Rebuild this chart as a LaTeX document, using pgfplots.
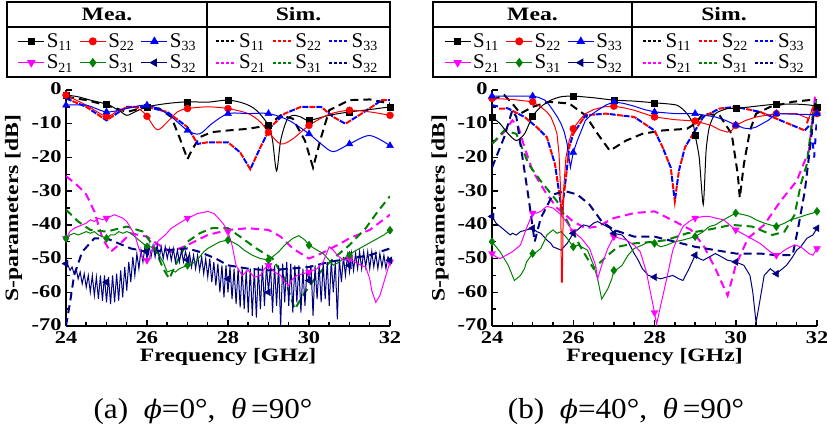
\documentclass[border=0pt]{standalone}
\usepackage{fontspec}
\setmainfont{Liberation Serif}[BoldFeatures={FakeStretch=1.25}]
\newfontfamily\capfont{Liberation Serif}[FakeStretch=1.08]
\newfontfamily\phifont{DejaVu Serif}[Scale=0.88, FakeStretch=1.05]
\usepackage{pgfplots}
\pgfplotsset{compat=1.18}
\definecolor{mgreen}{RGB}{0,128,0}
\definecolor{mnavy}{RGB}{0,0,128}
\definecolor{mblue}{RGB}{0,0,255}
\definecolor{mmag}{RGB}{255,0,255}
\definecolor{mred}{RGB}{255,0,0}
\newcommand\sub[1]{\raisebox{-0.35ex}{\fontsize{14}{14}\selectfont #1}}
\pgfplotsset{
  mea/.style={line width=1bp, mark=none},
  sim/.style={line width=2bp, dash pattern=on 8bp off 5bp},
  simA/.style={line width=2bp, dash pattern=on 6bp off 8bp},
  simB/.style={line width=2bp, dash pattern=on 6bp off 8bp, dash phase=7bp},
  mk/.style={only marks, mark size=3.2bp},
  mealeg/.style={legend image code/.code={\draw[mark repeat=2,mark phase=2,##1] plot coordinates {(0bp,0bp)(13bp,0bp)(26bp,0bp)};}},
  simleg/.style={legend image code/.code={\draw[##1] (0bp,0bp) -- (20bp,0bp);}},
  panel/.style={
    anchor=south west, scale only axis, height=236bp,
    xmin=24, xmax=32, ymin=-70, ymax=0,
    axis lines=left, axis line style={line width=2bp, -},
    xtick={24,26,...,32}, minor x tick num=3,
    ytick={-70,-60,...,0}, minor y tick num=1,
    tick align=inside, major tick length=6bp, minor tick length=4bp,
    tick style={line width=1.5bp, black},
    ticklabel style={font=\bfseries\fontsize{18}{18}\selectfont},
    yticklabel style={xshift=-1bp, yshift=1bp},
    xticklabel style={yshift=-2bp},
    /pgf/number format/assume math mode=true,
    xlabel={Frequency [GHz]}, ylabel={S-parameters [dB]},
    label style={font=\bfseries\fontsize{19}{19}\selectfont},
    xlabel style={at={(axis description cs:0.5,-0.131)}, anchor=center},
    ylabel style={at={(axis description cs:-0.162,0.5)}, anchor=center},
    clip mode=individual,
    legend columns=7, legend cell align=left,
    legend style={at={(axis description cs:0.409,1.161)}, anchor=center, draw=none, fill=none,
      inner sep=0bp, row sep=2bp, font=\fontsize{21}{21}\selectfont,
      /tikz/every even column/.append style={column sep=5bp}},
  },
}
\newcommand\mylegend{%
  \addlegendimage{mealeg, black, line width=1bp, mark=square*, mark size=3bp}\addlegendentry{S\sub{11}}
  \addlegendimage{mealeg, mred, line width=1bp, mark=*, mark size=3.5bp}\addlegendentry{S\sub{22}}
  \addlegendimage{mealeg, mblue, line width=1bp, mark=triangle*, mark size=4bp}\addlegendentry{S\sub{33}}
  \addlegendimage{empty legend}\addlegendentry{\hspace*{4bp}}
  \addlegendimage{simleg, black, line width=1.7bp, dash pattern=on 3bp off 2bp}\addlegendentry{S\sub{11}}
  \addlegendimage{simleg, color=mred, line width=1.7bp, dash pattern=on 3bp off 2bp}\addlegendentry{S\sub{22}}
  \addlegendimage{simleg, color=mblue, line width=1.7bp, dash pattern=on 3bp off 2bp}\addlegendentry{S\sub{33}}
  \addlegendimage{mealeg, mmag, line width=1bp, mark=triangle*, mark size=4bp, mark options={rotate=180}}\addlegendentry{S\sub{21}}
  \addlegendimage{mealeg, mgreen, line width=1bp, mark=diamond*, mark size=4bp}\addlegendentry{S\sub{31}}
  \addlegendimage{mealeg, mnavy, line width=1bp, mark=triangle*, mark size=4bp, mark options={rotate=90}}\addlegendentry{S\sub{32}}
  \addlegendimage{empty legend}\addlegendentry{\hspace*{4bp}}
  \addlegendimage{simleg, color=mmag, line width=1.7bp, dash pattern=on 3bp off 2bp}\addlegendentry{S\sub{21}}
  \addlegendimage{simleg, color=mgreen, line width=1.7bp, dash pattern=on 3bp off 2bp}\addlegendentry{S\sub{31}}
  \addlegendimage{simleg, color=mnavy, line width=1.7bp, dash pattern=on 3bp off 2bp}\addlegendentry{S\sub{32}}
}
\begin{document}
\begin{tikzpicture}
\useasboundingbox (0bp,0bp) rectangle (827bp,428bp);
% ================= LEFT PANEL =================
\begin{axis}[panel, at={(66bp,102bp)}, width=324bp]
\mylegend
% simulated
\addplot[sim, black] coordinates {(24,-2)(24.5,-3)(25,-4.5)(25.5,-6.5)(26,-5)(26.3,-5.5)(26.6,-8)(26.8,-14)(27,-20.5)(27.1,-18)(27.3,-14)(27.6,-12.5)(28,-12)(28.5,-11.5)(29,-10.5)(29.3,-7.5)(29.6,-8.5)(29.9,-15)(30.1,-23)(30.3,-14)(30.5,-6)(31,-3)(31.5,-2.8)(32,-4)};
\addplot[simA, mblue] coordinates {(24,-2.5)(24.5,-5)(25,-9)(25.5,-5)(26,-5)(26.5,-6.5)(27,-11)(27.25,-16)(27.5,-15.5)(28,-15.5)(28.3,-18.5)(28.55,-23.5)(28.8,-17)(29.05,-11)(29.4,-7)(29.8,-5)(30.3,-5)(30.6,-8)(30.9,-10)(31.3,-7)(31.8,-3)(32,-3)};
\addplot[simB, mred] coordinates {(24,-2.5)(24.5,-5)(25,-9)(25.5,-5)(26,-5)(26.5,-6.5)(27,-11)(27.25,-16)(27.5,-15.5)(28,-15.5)(28.3,-18.5)(28.55,-23.5)(28.8,-17)(29.05,-11)(29.4,-7)(29.8,-5)(30.3,-5)(30.6,-8)(30.9,-10)(31.3,-7)(31.8,-3)(32,-3)};
\addplot[sim, mmag] coordinates {(24,-25.5)(24.3,-28.5)(24.5,-31)(24.7,-36)(24.9,-44)(25.1,-48)(25.3,-46)(25.6,-42.5)(26,-43.5)(26.3,-46)(26.6,-48)(27,-46)(27.5,-43)(28,-41.5)(28.5,-41)(29,-41.5)(29.3,-43.5)(29.6,-47)(30,-50)(30.3,-48.5)(30.7,-46)(31,-44)(31.5,-41.5)(32,-37)};
\addplot[sim, mgreen] coordinates {(24,-35.5)(24.3,-39)(24.6,-41.5)(25,-42)(25.5,-40.5)(25.9,-42)(26.2,-47)(26.4,-53)(26.55,-56)(26.7,-52)(27,-45)(27.3,-42.5)(27.6,-41)(28,-41)(28.3,-43.5)(28.7,-47)(29.1,-50)(29.4,-56)(29.65,-65)(29.9,-60)(30.2,-55)(30.6,-50)(31,-46)(31.4,-41)(31.7,-36)(32,-31.5)};
\addplot[sim, mnavy] coordinates {(24,-70)(24.1,-63)(24.2,-55)(24.4,-48)(24.7,-44)(25,-44)(25.3,-45.5)(25.6,-47)(26,-48)(26.5,-47.5)(27,-47)(27.3,-48)(27.7,-50)(28,-52)(28.5,-53)(29,-53.5)(29.5,-53)(30,-52.5)(30.5,-51)(31,-50)(31.5,-49)(32,-47)};
% measured
\addplot[mea, mnavy] coordinates {(24,-51.5)(24.05,-52)(24.1,-53.5)(24.15,-52.5)(24.2,-54.5)(24.25,-53)(24.3,-56)(24.35,-54)(24.4,-57.5)(24.45,-54.5)(24.5,-58.5)(24.55,-55)(24.6,-60)(24.65,-55)(24.7,-61)(24.75,-55.5)(24.8,-62)(24.85,-55)(24.9,-62.5)(24.95,-55)(25,-63)(25.05,-55.5)(25.1,-63.5)(25.15,-55)(25.2,-63)(25.25,-54.5)(25.3,-62.5)(25.35,-53.5)(25.4,-61.5)(25.45,-52.5)(25.5,-59.5)(25.55,-51)(25.6,-57)(25.65,-49.5)(25.7,-55)(25.75,-48.5)(25.8,-53)(25.85,-47.5)(25.9,-51)(25.95,-46.5)(26,-50)(26.05,-46)(26.1,-49.5)(26.15,-46)(26.2,-49.5)(26.25,-46)(26.3,-50)(26.35,-46.5)(26.4,-50)(26.45,-46.5)(26.5,-50)(26.55,-47)(26.6,-50.5)(26.65,-47)(26.7,-51)(26.75,-47.5)(26.8,-51)(26.85,-47.5)(26.9,-51)(26.95,-48)(27,-50.4)(27.05,-48.5)(27.1,-52.5)(27.15,-49)(27.2,-53)(27.25,-49)(27.3,-53.5)(27.35,-49.5)(27.4,-54.5)(27.45,-50)(27.5,-55.5)(27.55,-50)(27.6,-57)(27.65,-51)(27.7,-58)(27.75,-51.5)(27.8,-60)(27.85,-52)(27.9,-61.5)(27.95,-52)(28,-60)(28.05,-52.5)(28.1,-62)(28.15,-53)(28.2,-63.5)(28.25,-53)(28.3,-64.5)(28.35,-53)(28.4,-65)(28.45,-53.5)(28.5,-66)(28.55,-53)(28.6,-67)(28.65,-53)(28.7,-67.5)(28.75,-52.5)(28.8,-65)(28.85,-52)(28.9,-64)(28.95,-52)(29,-60)(29.05,-52)(29.1,-66)(29.15,-52)(29.2,-64)(29.25,-52)(29.3,-70)(29.35,-51.5)(29.4,-63)(29.45,-51)(29.5,-64)(29.55,-51.5)(29.6,-66)(29.65,-52)(29.7,-63)(29.75,-52)(29.8,-66)(29.85,-53)(29.9,-64)(29.95,-53)(30,-56.5)(30.05,-52)(30.1,-67)(30.15,-52)(30.2,-62)(30.25,-52)(30.3,-63)(30.35,-51.5)(30.4,-62)(30.45,-51)(30.5,-64)(30.55,-50.5)(30.6,-60)(30.65,-51)(30.7,-68)(30.75,-50)(30.8,-57)(30.85,-49.5)(30.9,-55)(30.95,-49)(31,-54)(31.05,-48.5)(31.1,-53.5)(31.15,-48.5)(31.2,-53)(31.25,-48)(31.3,-53)(31.35,-48)(31.4,-52.5)(31.45,-48)(31.5,-53)(31.55,-48)(31.6,-52.5)(31.65,-48.5)(31.7,-53)(31.75,-48.5)(31.8,-52.5)(31.85,-49)(31.9,-53)(31.95,-49.5)(32,-50.5)};
\addplot[mea, mgreen] coordinates {(24,-44)(24.1,-43)(24.2,-42.5)(24.3,-43)(24.4,-42.5)(24.5,-42)(24.6,-42.5)(24.7,-42)(24.8,-43)(24.9,-43.5)(25,-44)(25.1,-43)(25.2,-43)(25.3,-42)(25.4,-42.5)(25.5,-42)(25.6,-42.5)(25.7,-43.5)(25.8,-44.5)(25.9,-45.5)(26,-46.5)(26.1,-46.5)(26.2,-47.5)(26.3,-49)(26.4,-51)(26.5,-54)(26.6,-53.5)(26.7,-54)(26.8,-53)(26.9,-52.5)(27,-52)(27.1,-51.5)(27.2,-51)(27.3,-49.5)(27.4,-48)(27.5,-47)(27.65,-46)(27.8,-45)(28,-44.5)(28.1,-45)(28.25,-46)(28.4,-47.5)(28.6,-49)(28.8,-50)(29,-50.4)(29.1,-49.5)(29.25,-48)(29.4,-46)(29.5,-45)(29.6,-44)(29.75,-43.2)(29.9,-44.5)(30,-46)(30.2,-47.5)(30.35,-48.5)(30.5,-50.5)(30.6,-52)(30.75,-51)(30.85,-50)(31,-49)(31.1,-48)(31.25,-47)(31.4,-46)(31.55,-45)(31.7,-44)(31.85,-43)(32,-41.6)};
\addplot[mea, mmag] coordinates {(24,-44)(24.1,-42)(24.2,-41)(24.3,-40.5)(24.4,-40)(24.5,-39.5)(24.6,-38.5)(24.7,-39)(24.8,-38)(24.9,-38.5)(25,-38)(25.1,-37.5)(25.2,-37)(25.3,-37.5)(25.4,-38)(25.5,-39)(25.6,-41)(25.7,-43)(25.8,-47)(25.9,-50)(26,-50.5)(26.05,-50)(26.15,-46.5)(26.3,-44.5)(26.45,-43)(26.6,-41)(26.8,-39.5)(27,-38)(27.1,-37.5)(27.25,-36.6)(27.4,-36.3)(27.5,-36)(27.65,-36.6)(27.8,-38.5)(27.9,-40)(28,-42)(28.1,-46)(28.2,-52)(28.35,-55)(28.5,-53.5)(28.65,-55.5)(28.8,-55)(28.9,-53)(29,-52)(29.15,-54)(29.3,-55)(29.4,-57)(29.5,-58)(29.6,-56)(29.7,-55)(29.85,-54.5)(30,-54)(30.2,-53)(30.35,-51)(30.45,-48)(30.5,-46.5)(30.6,-47.5)(30.7,-49)(30.85,-50.5)(31,-50)(31.2,-51.5)(31.4,-52.5)(31.5,-56)(31.55,-59.5)(31.65,-63)(31.75,-61)(31.85,-57)(31.95,-53)(32,-51)};
\addplot[mea, black, smooth, tension=0.5] coordinates {(24,-1.5)(24.3,-2)(24.6,-3)(25,-4.2)(25.3,-6)(25.5,-7.5)(25.7,-6.5)(26,-5)(26.5,-4)(27,-3.5)(27.5,-3.6)(28,-3)(28.4,-4)(28.7,-6)(29,-10.5)(29.1,-15)(29.2,-24)(29.3,-15)(29.45,-9)(29.6,-7.5)(29.8,-8)(30,-9)(30.5,-7.5)(31,-6.5)(31.5,-5.8)(32,-5)};
\addplot[mea, mred, smooth, tension=0.5] coordinates {(24,-1.5)(24.5,-4.5)(25,-7.8)(25.3,-6)(25.6,-5)(25.85,-6)(26,-7.8)(26.25,-11.8)(26.5,-9.5)(26.75,-6.5)(27,-5.5)(27.5,-5)(28,-5.5)(28.5,-7)(28.8,-9.5)(29,-12.5)(29.3,-16)(29.6,-14.5)(30,-10.5)(30.5,-7.2)(31,-6)(31.5,-6.5)(32,-7.5)};
\addplot[mea, mblue, smooth, tension=0.5] coordinates {(24,-4.5)(24.5,-4.5)(25,-6.5)(25.5,-5.5)(26,-4.5)(26.5,-7)(27,-12)(27.3,-13)(27.6,-10)(28,-7)(28.5,-7)(29,-7)(29.5,-9)(30,-13)(30.3,-16)(30.6,-18.3)(31,-16)(31.5,-13.5)(32,-16.5)};
% markers
\addplot[mk, black, mark=square*, mark size=3bp] coordinates {(24,-1.5)(25,-4.2)(26,-5)(27,-3.5)(28,-3)(29,-10.5)(30,-9)(31,-6.5)(32,-5)};
\addplot[mk, mred, mark=*, mark size=3.5bp] coordinates {(24,-1.5)(25,-7.8)(26,-7.8)(27,-5.5)(28,-5.5)(29,-12.5)(30,-10.5)(31,-6)(32,-7.5)};
\addplot[mk, mblue, mark=triangle*, mark size=4bp] coordinates {(24,-4.5)(25,-6.5)(26,-4.5)(27,-12)(28,-7)(29,-7)(30,-13)(31,-16)(32,-16.5)};
\addplot[mk, mmag, mark=triangle*, mark size=4bp, mark options={rotate=180}] coordinates {(24,-44)(25,-38)(26,-50.5)(27,-38)(28,-42)(29,-52)(30,-54)(31,-50)(32,-51)};
\addplot[mk, mgreen, mark=diamond*, mark size=4bp] coordinates {(24,-44)(25,-44)(26,-46.5)(27,-52)(28,-44.5)(29,-50.4)(30,-46)(31,-49)(32,-41.6)};
\addplot[mk, mnavy, mark=triangle*, mark size=4bp, mark options={rotate=90}] coordinates {(24,-51.5)(25,-57)(26,-48)(27,-50.4)(28,-56)(29,-60)(30,-56.5)(31,-52)(32,-50.5)};
\end{axis}
% ================= RIGHT PANEL =================
\begin{axis}[panel, at={(492bp,102bp)}, width=325bp, ylabel style={at={(axis description cs:-0.16,0.5)}}]
\mylegend
% simulated
\addplot[sim, black] coordinates {(24,-3)(24.3,-1.5)(24.5,-4)(24.7,-7)(25,-5)(25.4,-3.5)(25.9,-4)(26.3,-7.5)(26.6,-13)(26.9,-18)(27.3,-15)(27.7,-13)(28.2,-12)(28.8,-11.5)(29,-10)(29.2,-7)(29.6,-7.5)(29.9,-13)(30.05,-25)(30.1,-32)(30.2,-22)(30.35,-12)(30.5,-7)(30.85,-5)(31.4,-3.5)(31.8,-3)(32,-3)};
\addplot[simA, mblue] coordinates {(24,-4.5)(24.4,-5.5)(24.8,-8)(25.1,-11)(25.35,-14)(25.55,-22)(25.72,-36)(25.82,-26)(25.9,-17)(26,-13)(26.3,-7.5)(26.8,-7)(27.5,-8)(28,-12)(28.2,-17)(28.4,-23)(28.5,-33)(28.6,-24)(28.75,-17)(29,-12)(29.2,-8)(29.6,-5.5)(30,-5)(30.6,-6.5)(31,-8.5)(31.4,-10.5)(31.7,-12)(31.85,-10)(31.93,-20)(32,-8)};
\addplot[simB, mred] coordinates {(24,-5.5)(24.4,-5.5)(24.8,-8)(25.1,-11)(25.35,-14)(25.55,-22)(25.72,-36)(25.82,-26)(25.9,-17)(26,-13)(26.3,-7.5)(26.8,-7)(27.5,-8)(28,-12)(28.2,-17)(28.4,-23)(28.5,-33)(28.6,-24)(28.75,-17)(29,-12)(29.2,-8)(29.6,-5.5)(30,-5)(30.6,-6.5)(31,-8.5)(31.4,-10.5)(31.7,-12)(31.85,-6)(32,-5)};
\addplot[sim, mmag] coordinates {(24,-16)(24.3,-12.5)(24.5,-9)(24.65,-11)(24.8,-17)(25,-24)(25.3,-30)(25.6,-35)(26,-39)(26.3,-41)(26.6,-40.5)(27,-38)(27.5,-36.5)(28,-36)(28.5,-39)(28.9,-41.5)(29.2,-46)(29.5,-53)(29.8,-61)(30,-52)(30.3,-44)(30.7,-40)(31.1,-33)(31.5,-27)(31.8,-18)(31.95,-2)};
\addplot[sim, mgreen] coordinates {(24,-16)(24.3,-12)(24.6,-13)(24.9,-22)(25.2,-27)(25.6,-33)(25.9,-40)(26.2,-47)(26.5,-53)(26.85,-49)(27.1,-46.5)(27.5,-45.5)(28,-45)(28.3,-44.5)(28.8,-42.5)(29.3,-41.5)(29.9,-40)(30.4,-40.5)(30.9,-43)(31.2,-42)(31.45,-37)(31.6,-28)(31.75,-22)(31.9,-7)(32,-3)};
\addplot[sim, mnavy] coordinates {(24,-23)(24.3,-14)(24.5,-6)(24.6,-8)(24.75,-20)(24.9,-32)(25.05,-45)(25.2,-38)(25.5,-31)(25.8,-30)(26.1,-31)(26.4,-34)(26.7,-39)(27,-41.5)(27.5,-43.5)(28,-43.5)(28.5,-45)(29,-46.5)(29.5,-47.5)(30,-48.5)(30.6,-48.5)(31,-49)(31.4,-49)(31.55,-40)(31.7,-30)(31.85,-15)(31.95,-3)};
% measured
\addplot[mea, mnavy] coordinates {(24,-37.5)(24.1,-39.5)(24.2,-40.5)(24.3,-41.5)(24.35,-42)(24.45,-43)(24.5,-42.5)(24.6,-43)(24.7,-42)(24.85,-41.5)(25,-41)(25.1,-42)(25.2,-42.5)(25.35,-44.5)(25.45,-45.5)(25.5,-46.5)(25.6,-47)(25.7,-47.5)(25.85,-45.5)(26,-42.5)(26.1,-41.5)(26.25,-40)(26.4,-40.5)(26.5,-39.5)(26.6,-39)(26.75,-40)(26.9,-41)(27,-42.5)(27.2,-43)(27.35,-45)(27.5,-48.5)(27.6,-50.5)(27.7,-53)(27.85,-55)(28,-55.5)(28.15,-56)(28.3,-55.5)(28.45,-55)(28.6,-56)(28.7,-56.5)(28.85,-53)(29,-49)(29.1,-50)(29.2,-50.5)(29.35,-49.5)(29.5,-48.5)(29.65,-49.5)(29.8,-50.5)(30,-51)(30.2,-52)(30.35,-55)(30.42,-60)(30.5,-69)(30.58,-63.5)(30.7,-55)(30.85,-53)(31,-54.5)(31.1,-53.5)(31.25,-52)(31.4,-49.5)(31.5,-47.5)(31.6,-46.5)(31.75,-44)(31.9,-43)(32,-41)};
\addplot[mea, mgreen] coordinates {(24,-45)(24.1,-46.5)(24.2,-48)(24.3,-50)(24.4,-52)(24.5,-55)(24.55,-56.5)(24.6,-56)(24.7,-55)(24.8,-53)(24.85,-51)(25,-48.5)(25.1,-48)(25.2,-47)(25.3,-44.5)(25.35,-43)(25.5,-41.5)(25.6,-42.5)(25.7,-42)(25.85,-44)(26,-46.5)(26.1,-46)(26.2,-46.5)(26.35,-47.5)(26.5,-52)(26.6,-56)(26.65,-59)(26.7,-62)(26.8,-60)(26.85,-59)(26.95,-56)(27,-53.5)(27.1,-53)(27.2,-52)(27.35,-49)(27.5,-47)(27.6,-46.5)(27.7,-46)(27.85,-45)(28,-45.5)(28.15,-46.5)(28.3,-46)(28.5,-45)(28.7,-44.5)(28.85,-44)(29,-43.5)(29.2,-42)(29.35,-40.5)(29.5,-40)(29.7,-38.5)(29.85,-37.5)(30,-36.5)(30.2,-37)(30.35,-37.5)(30.5,-38.5)(30.7,-39.5)(30.85,-40)(31,-40.5)(31.2,-39.5)(31.35,-38.5)(31.5,-38)(31.75,-37)(31.9,-36.5)(32,-36)};
\addplot[mea, mmag] coordinates {(24,-48.5)(24.1,-49.5)(24.2,-50)(24.35,-49)(24.5,-48)(24.6,-47)(24.7,-46)(24.85,-41)(25,-36.5)(25.1,-36.5)(25.2,-36)(25.35,-34.5)(25.5,-35)(25.6,-36)(25.7,-37)(25.85,-39.5)(26,-42)(26.1,-43)(26.2,-44)(26.4,-47)(26.55,-52)(26.6,-56)(26.7,-52)(26.85,-47)(27,-43.5)(27.15,-44)(27.3,-44.5)(27.5,-46)(27.65,-48)(27.8,-54)(27.9,-60)(28,-66)(28.05,-69.5)(28.15,-64)(28.3,-56)(28.45,-47.5)(28.6,-43)(28.7,-40.5)(28.85,-39)(29,-38)(29.2,-37.5)(29.35,-37.5)(29.5,-38)(29.7,-38.5)(29.85,-40)(30,-41.5)(30.15,-42.5)(30.3,-43.5)(30.45,-44.5)(30.6,-45.5)(30.75,-47)(30.85,-48)(31,-49)(31.1,-48.5)(31.2,-47.5)(31.35,-46.5)(31.45,-46)(31.6,-46.5)(31.7,-47.5)(31.8,-48.5)(31.9,-49)(32,-47)};
\addplot[mea, black, smooth, tension=0.4] coordinates {(24,-8)(24.2,-10)(24.4,-13)(24.6,-15)(24.8,-13)(25,-7.8)(25.2,-5)(25.45,-3)(25.7,-2)(26,-1.8)(26.5,-2.3)(27,-3)(27.5,-3.3)(28,-3.8)(28.55,-4.5)(28.8,-7)(28.95,-10)(29,-13.4)(29.1,-20)(29.2,-34)(29.27,-18)(29.35,-11)(29.5,-7)(29.8,-5.5)(30,-5.5)(30.5,-4.8)(31,-4.2)(31.5,-4.2)(31.85,-4.5)(32,-5)};
\addplot[mea, mred] coordinates {(24,-2.5)(24.5,-2.8)(25,-3.5)(25.2,-5)(25.35,-6.5)(25.45,-8)(25.55,-11)(25.6,-13)(25.65,-19)(25.69,-30)(25.71,-57)(25.73,-57)(25.76,-30)(25.82,-20)(25.9,-15)(26,-11.5)(26.15,-9)(26.3,-7)(26.5,-5.8)(26.75,-5)(27,-4.8)(27.25,-5.3)(27.5,-6)(27.75,-7)(28,-8)(28.5,-8.8)(29,-9.2)(29.4,-10.5)(29.6,-11.8)(29.8,-12.5)(29.9,-12)(30,-10.5)(30.25,-9)(30.5,-8)(31,-7)(31.5,-7)(31.8,-8.5)(31.9,-5)(32,-7)};
\addplot[mea, mblue] coordinates {(24,-1.8)(24.5,-1.8)(25,-1.8)(25.15,-2.2)(25.3,-3)(25.4,-4.3)(25.5,-6)(25.6,-7.8)(25.7,-10)(25.78,-12.5)(25.85,-16)(25.93,-23)(26,-18.5)(26.1,-15)(26.2,-12)(26.3,-9)(26.45,-7.3)(26.6,-6)(26.8,-4.5)(27,-3.5)(27.25,-4)(27.5,-4.8)(27.75,-5.8)(28,-6.5)(28.5,-7)(29,-7)(29.5,-8)(29.75,-9)(30,-10.4)(30.2,-11.3)(30.35,-11.5)(30.5,-11)(30.65,-10)(30.8,-9)(31,-7)(31.5,-7.2)(31.9,-7.3)(32,-7)};
% markers
\addplot[mk, black, mark=square*, mark size=3bp] coordinates {(24,-8)(25,-7.8)(26,-1.8)(27,-3)(28,-3.8)(29,-13.4)(30,-5.5)(31,-4.2)(32,-5)};
\addplot[mk, mred, mark=*, mark size=3.5bp] coordinates {(24,-2.5)(25,-3.5)(26,-11.5)(27,-4.8)(28,-8)(29,-9.2)(30,-10.5)(31,-7)(32,-7)};
\addplot[mk, mblue, mark=triangle*, mark size=4bp] coordinates {(24,-1.8)(25,-1.8)(26,-18.5)(27,-3.5)(28,-6.5)(29,-7)(30,-10.4)(31,-7)(32,-7)};
\addplot[mk, mmag, mark=triangle*, mark size=4bp, mark options={rotate=180}] coordinates {(24,-48.5)(25,-36.5)(26,-42)(27,-43.5)(28,-66)(29,-38)(30,-41.5)(31,-49)(32,-47)};
\addplot[mk, mgreen, mark=diamond*, mark size=4bp] coordinates {(24,-45)(25,-48.5)(26,-46.5)(27,-53.5)(28,-45.5)(29,-43.5)(30,-36.5)(31,-40.5)(32,-36)};
\addplot[mk, mnavy, mark=triangle*, mark size=4bp, mark options={rotate=90}] coordinates {(24,-37.5)(25,-41)(26,-42.5)(27,-42.5)(28,-55.5)(29,-49)(30,-51)(31,-54.5)(32,-41)};
\end{axis}
% legend frames and headers
\draw[line width=1.5bp] (7bp,426bp) rectangle (390bp,351bp);
\draw[line width=1.5bp] (207bp,426bp) -- (207bp,351bp);
\draw[line width=1.5bp] (7bp,401bp) -- (390bp,401bp);
\draw[line width=1.5bp] (433bp,426bp) rectangle (816bp,351bp);
\draw[line width=1.5bp] (632bp,426bp) -- (632bp,351bp);
\draw[line width=1.5bp] (433bp,401bp) -- (816bp,401bp);
\node[font=\bfseries\fontsize{19}{19}\selectfont] at (107bp,413.5bp) {Mea.};
\node[font=\bfseries\fontsize{19}{19}\selectfont] at (298.5bp,413.5bp) {Sim.};
\node[font=\bfseries\fontsize{19}{19}\selectfont] at (532.5bp,413.5bp) {Mea.};
\node[font=\bfseries\fontsize{19}{19}\selectfont] at (724bp,413.5bp) {Sim.};
% captions
\node[font=\capfont\fontsize{29}{29}\selectfont] at (203bp,17bp) {(a)\ \ {\phifont\itshape ϕ}=0°,\ \ \textit{θ}\,=90°};
\node[font=\capfont\fontsize{29}{29}\selectfont] at (626bp,17bp) {(b)\ \ {\phifont\itshape ϕ}=40°,\ \ \textit{θ}\,=90°};
\end{tikzpicture}
\end{document}
